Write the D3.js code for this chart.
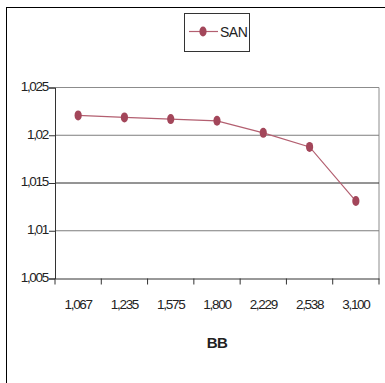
<!DOCTYPE html>
<html>
<head>
<meta charset="utf-8">
<script src="https://cdn.jsdelivr.net/npm/d3@7/dist/d3.min.js"></script>
<style>
  html, body { margin: 0; padding: 0; background: #fff; }
  svg { display: block; }
  text { font-family: "Liberation Sans", Arial, sans-serif; fill: #222; }
</style>
</head>
<body>
<svg id="chart" width="385" height="383"></svg>
<script>
// Chart data
const categories = ["1,067", "1,235", "1,575", "1,800", "2,229", "2,538", "3,100"];
const sanValues = [1.02208, 1.02187, 1.02169, 1.02151, 1.02025, 1.01878, 1.01311];
const yTicks = [1.005, 1.01, 1.015, 1.02, 1.025];
const seriesName = "SAN";
const xTitle = "BB";

const svg = d3.select("#chart");
const W = 385, H = 383;
const plot = { left: 55, right: 379, top: 87.5, bottom: 278.5 };

const lineColor = "#b35f70";
const markerColor = "#a3465a";
const labelFont = "'Liberation Sans', Arial, sans-serif";

// Outer chart frame (runs past the right and bottom edges)
svg.append("rect")
  .attr("x", 6.5).attr("y", 7.5)
  .attr("width", W + 20).attr("height", H + 20)
  .attr("fill", "#fff").attr("stroke", "#000").attr("stroke-width", 1);

const x = d3.scaleBand().domain(categories).range([plot.left, plot.right]).padding(0);
const y = d3.scaleLinear().domain([1.005, 1.025]).range([plot.bottom, plot.top]);

const locale = d3.formatLocale({ decimal: ",", thousands: ".", grouping: [3], currency: ["", ""] });
const fmt = locale.format("~g");

// Plot area border (top & right)
svg.append("path")
  .attr("d", `M${plot.left},${plot.top}H${plot.right}V${plot.bottom}`)
  .attr("fill", "none").attr("stroke", "#8c8c8c").attr("stroke-width", 1);

// Horizontal gridlines
const gridColor = v => (Math.abs(v - 1.015) < 1e-9 ? "#2a2a2a" : "#7d7d7d");
svg.append("g").selectAll("line")
  .data(yTicks.filter(v => v > 1.005 && v < 1.025))
  .join("line")
  .attr("x1", plot.left).attr("x2", plot.right)
  .attr("y1", d => y(d)).attr("y2", d => y(d))
  .attr("stroke", d => gridColor(d)).attr("stroke-width", 1);

// Y axis
const yAxis = svg.append("g")
  .attr("transform", `translate(${plot.left},0)`)
  .call(d3.axisLeft(y).tickValues(yTicks).tickFormat(fmt).tickSize(6).tickPadding(1));
yAxis.select(".domain").attr("stroke", "#333");
yAxis.selectAll(".tick line").attr("stroke", "#333");
yAxis.selectAll(".tick text")
  .attr("font-size", 13.5).attr("letter-spacing", "-1.3px")
  .attr("dy", "0.22em")
  .style("font-family", labelFont).attr("fill", "#222");

// X axis: labels at category centres, ticks at category boundaries
const xAxis = svg.append("g")
  .attr("transform", `translate(0,${plot.bottom})`)
  .call(d3.axisBottom(x).tickSize(0).tickPadding(21));
xAxis.select(".domain").attr("stroke", "#333");
xAxis.selectAll(".tick text")
  .attr("font-size", 13.5).attr("letter-spacing", "-1.3px")
  .style("font-family", labelFont).attr("fill", "#222");

const boundaries = categories.map(c => x(c)).concat([x.range()[1]]);
svg.append("g").selectAll("line")
  .data(boundaries)
  .join("line")
  .attr("x1", d => d).attr("x2", d => d)
  .attr("y1", plot.bottom).attr("y2", plot.bottom + 6)
  .attr("stroke", "#333").attr("stroke-width", 1);

// X axis title
svg.append("text")
  .attr("x", (plot.left + plot.right) / 2)
  .attr("y", 348)
  .attr("text-anchor", "middle")
  .attr("font-size", 15).attr("font-weight", "bold").attr("letter-spacing", "-0.5px")
  .text(xTitle);

// Series line
const cx = c => x(c) + x.bandwidth() / 2;
const points = categories.map((c, i) => [cx(c), y(sanValues[i])]);
svg.append("path")
  .attr("d", d3.line()(points))
  .attr("fill", "none").attr("stroke", lineColor).attr("stroke-width", 1.2);

// Markers
svg.append("g").selectAll("ellipse")
  .data(points)
  .join("ellipse")
  .attr("cx", d => d[0]).attr("cy", d => d[1])
  .attr("rx", 3.6).attr("ry", 5)
  .attr("fill", markerColor);

// Legend
const lg = svg.append("g");
lg.append("rect")
  .attr("x", 184.5).attr("y", 13.5).attr("width", 65).attr("height", 38)
  .attr("fill", "#fff").attr("stroke", "#333").attr("stroke-width", 1);
lg.append("line")
  .attr("x1", 189).attr("x2", 218).attr("y1", 31.5).attr("y2", 31.5)
  .attr("stroke", lineColor).attr("stroke-width", 1.2);
lg.append("ellipse")
  .attr("cx", 203).attr("cy", 31.5).attr("rx", 3.6).attr("ry", 5)
  .attr("fill", markerColor);
lg.append("text")
  .attr("x", 220).attr("y", 36.5)
  .attr("font-size", 14).attr("letter-spacing", "-0.5px")
  .text(seriesName);
</script>
</body>
</html>
